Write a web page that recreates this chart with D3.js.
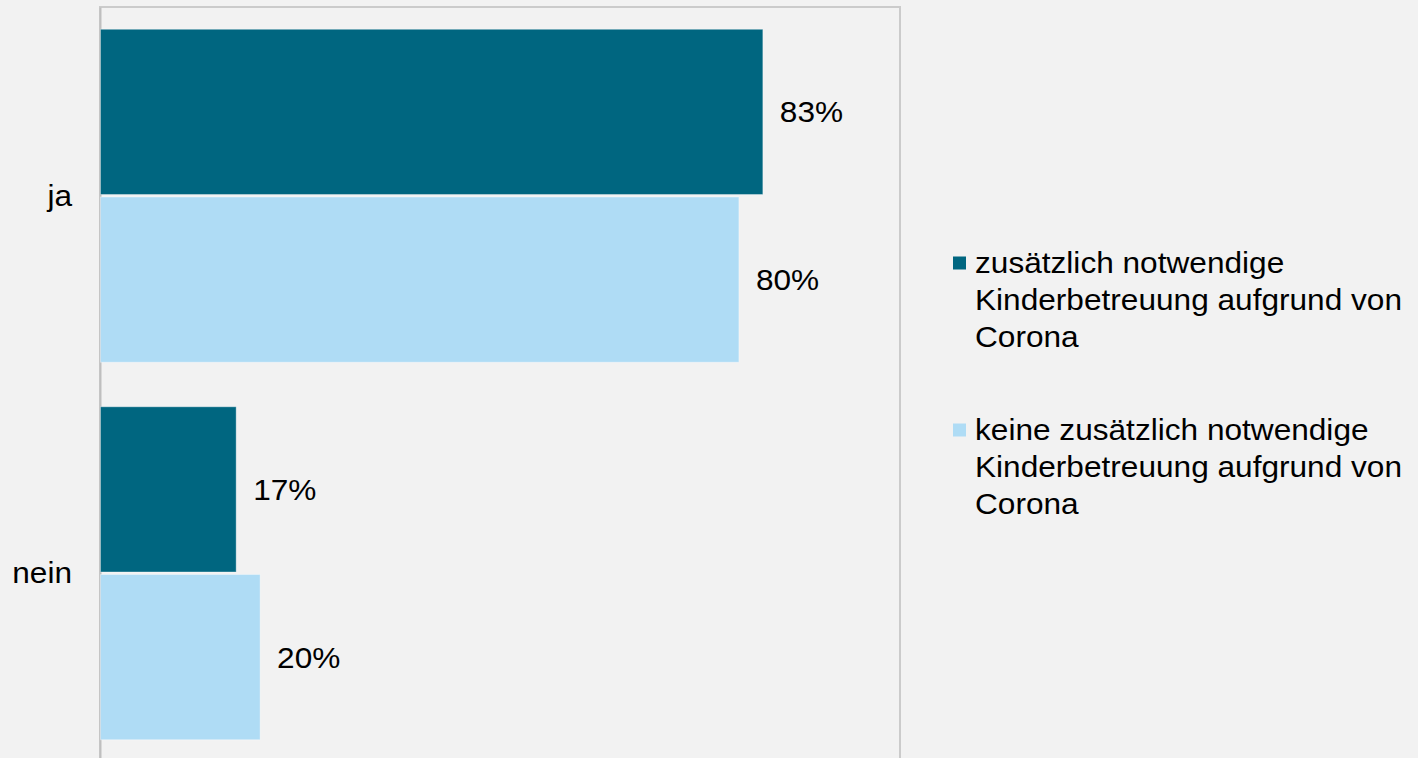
<!DOCTYPE html>
<html>
<head>
<meta charset="utf-8">
<script src="https://cdn.jsdelivr.net/npm/d3@7"></script>
<style>
  html, body { margin: 0; padding: 0; background: #f2f2f2; }
  svg { display: block; }
  text { font-family: "Liberation Sans", Arial, sans-serif; fill: #000; }
</style>
</head>
<body>
<svg id="chart" width="1418" height="758"></svg>
<script>
// Answers (categories) and the two groups compared
const categories = ["ja", "nein"];
const seriesNames = [
  "zusätzlich notwendige Kinderbetreuung aufgrund von Corona",
  "keine zusätzlich notwendige Kinderbetreuung aufgrund von Corona"
];
// Share in percent per category, one array per group
const withExtraCare = [83, 17];
const withoutExtraCare = [80, 20];
const seriesValues = [withExtraCare, withoutExtraCare];
const seriesColors = ["#006680", "#afdcf5"];

const W = 1418, H = 758;
const svg = d3.select("#chart");
const fontSize = 29;
const stretch = 1.09; // slightly widened lettering

const plot = { left: 100, right: 900, top: 7, bottom: 762 };

const x = d3.scaleLinear().domain([0, 100]).range([100.5, 898.5]);
const y = d3.scaleBand().domain(categories).range([plot.top, plot.bottom])
  .paddingInner(0.118).paddingOuter(0.059);
const ySub = d3.scaleBand().domain(d3.range(seriesNames.length))
  .range([0, y.bandwidth()]).paddingInner(0.015);

// plot frame
svg.append("rect")
  .attr("x", plot.left).attr("y", plot.top)
  .attr("width", plot.right - plot.left).attr("height", H + 10)
  .attr("fill", "none").attr("stroke", "#cbcbcb").attr("stroke-width", 2);

// category axis on the left
const yAxis = d3.axisLeft(y).tickSize(0).tickPadding(28);
const gAxis = svg.append("g").attr("transform", `translate(${plot.left},0)`).call(yAxis);
gAxis.select(".domain").attr("stroke", "#bfbfbf").attr("stroke-width", 2);
gAxis.selectAll(".tick text")
  .attr("font-size", fontSize)
  .attr("font-family", "Liberation Sans, Arial, sans-serif")
  .attr("fill", "#000")
  .attr("dy", null)
  .each(function () {
    const t = d3.select(this);
    const xx = +t.attr("x");
    t.attr("x", 0).attr("y", 0)
      .attr("transform", `translate(${xx},${y.bandwidth() / 2 - y.bandwidth() / 2 + 10}) scale(${stretch},1)`);
  });

// bars
const groups = svg.append("g").selectAll("g")
  .data(categories)
  .join("g")
  .attr("transform", d => `translate(0,${y(d)})`);

const barData = (cat, ci) => seriesValues.map((vals, si) => ({ si, value: vals[ci] }));

groups.each(function (cat, ci) {
  const g = d3.select(this);
  const items = barData(cat, ci);
  g.selectAll("rect")
    .data(items)
    .join("rect")
    .attr("x", x(0))
    .attr("y", d => ySub(d.si))
    .attr("width", d => x(d.value) - x(0))
    .attr("height", ySub.bandwidth())
    .attr("fill", d => seriesColors[d.si])
    .attr("stroke", "#ffffff")
    .attr("stroke-opacity", 0.35)
    .attr("stroke-width", 1);

  g.selectAll("text.val")
    .data(items)
    .join("text")
    .attr("class", "val")
    .attr("font-size", fontSize)
    .attr("transform", d =>
      `translate(${x(d.value) + 17},${ySub(d.si) + ySub.bandwidth() / 2 + 10.5}) scale(${stretch},1)`)
    .text(d => d.value + "%");
});

// legend
const legend = svg.append("g").attr("transform", "translate(953,0)");
const legendTop = [263, 430];
const lineH = 37;
const maxW = 440;

seriesNames.forEach((name, i) => {
  const cy = legendTop[i];
  legend.append("rect")
    .attr("x", 0).attr("y", cy - 6.5)
    .attr("width", 13).attr("height", 13)
    .attr("fill", seriesColors[i]);

  // word wrap to the legend width
  const words = name.split(" ");
  const lines = [];
  let cur = "";
  const probe = legend.append("text").attr("font-size", fontSize);
  words.forEach(w => {
    const test = cur ? cur + " " + w : w;
    probe.text(test);
    if (probe.node().getComputedTextLength() * stretch > maxW && cur) {
      lines.push(cur);
      cur = w;
    } else {
      cur = test;
    }
  });
  lines.push(cur);
  probe.remove();

  lines.forEach((ln, k) => {
    legend.append("text")
      .attr("font-size", fontSize)
      .attr("transform", `translate(22,${cy + 9.7 + k * lineH}) scale(${stretch},1)`)
      .text(ln);
  });
});
</script>
</body>
</html>
